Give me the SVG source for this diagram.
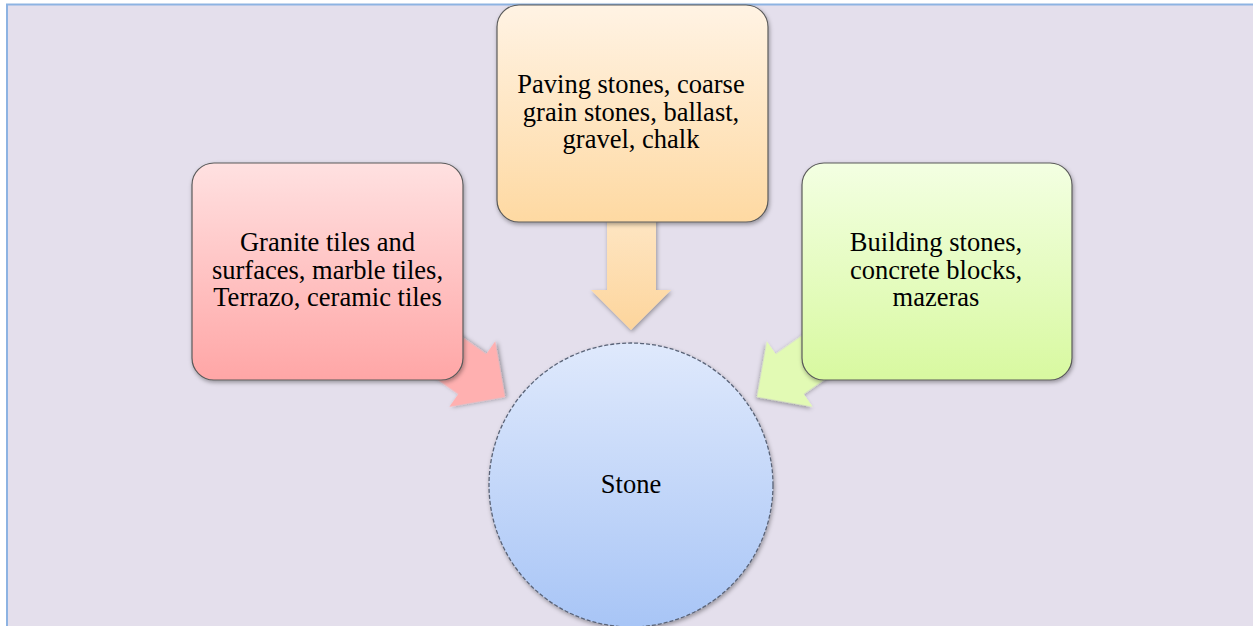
<svg xmlns="http://www.w3.org/2000/svg" width="1253" height="626" viewBox="0 0 1253 626">
  <defs>
    <linearGradient id="gRed" x1="0" y1="0" x2="0" y2="1">
      <stop offset="0" stop-color="#ffe1e1"/>
      <stop offset="1" stop-color="#ffa6a6"/>
    </linearGradient>
    <linearGradient id="gOrange" x1="0" y1="0" x2="0" y2="1">
      <stop offset="0" stop-color="#fff3e4"/>
      <stop offset="1" stop-color="#fed9a2"/>
    </linearGradient>
    <linearGradient id="gGreen" x1="0" y1="0" x2="0" y2="1">
      <stop offset="0" stop-color="#f3ffe2"/>
      <stop offset="1" stop-color="#d8f9a0"/>
    </linearGradient>
    <linearGradient id="gBlue" x1="0" y1="0" x2="0" y2="1">
      <stop offset="0" stop-color="#dfe9fc"/>
      <stop offset="1" stop-color="#a8c5f6"/>
    </linearGradient>
    <linearGradient id="gArrowOrange" x1="0" y1="0" x2="0" y2="1">
      <stop offset="0" stop-color="#fee6c4"/>
      <stop offset="1" stop-color="#fdd59c"/>
    </linearGradient>
    <filter id="shadow" x="-20%" y="-20%" width="140%" height="140%">
      <feDropShadow dx="1" dy="2" stdDeviation="2" flood-color="#000" flood-opacity="0.35"/>
    </filter>
    <!-- down-pointing block arrow, tip at the origin -->
    <path id="blockArrow" d="M0,0 L40,-40 L24.5,-40 L24.5,-110 L-24.5,-110 L-24.5,-40 L-40,-40 Z"/>
  </defs>
  <style>
    .box { stroke: #5a5a5a; stroke-width: 1.2; filter: url(#shadow); }
    .label { font-family: "Liberation Serif", "Times New Roman", serif; font-size: 26.5px; fill: #000; text-anchor: middle; }
  </style>

  <!-- canvas -->
  <rect x="0" y="0" width="1253" height="626" fill="#ffffff"/>
  <rect x="6.5" y="4" width="1247" height="622" fill="#e4dfec"/>
  <path d="M7,626 L7,4.5 L1253,4.5" fill="none" stroke="#8db3e2" stroke-width="2"/>

  <!-- connectors -->
  <g id="connectors">
    <use href="#blockArrow" transform="translate(505,397) rotate(-55)" fill="#ffb0b0" filter="url(#shadow)"/>
    <use href="#blockArrow" transform="translate(757,397) rotate(55)" fill="#e2fab4" filter="url(#shadow)"/>
    <path d="M607,215 L656,215 L656,290 L671,290 L631,330 L591,290 L607,290 Z" fill="url(#gArrowOrange)" filter="url(#shadow)"/>
  </g>

  <g id="node-tiles">
    <rect class="box" x="192" y="163" width="271" height="217" rx="22" fill="url(#gRed)"/>
    <text class="label" x="327.5" y="251">Granite tiles and</text>
    <text class="label" x="327.5" y="278.5">surfaces, marble tiles,</text>
    <text class="label" x="327.5" y="306">Terrazo, ceramic tiles</text>
  </g>

  <g id="node-paving">
    <rect class="box" x="497" y="5" width="271" height="217" rx="22" fill="url(#gOrange)"/>
    <text class="label" x="631" y="93">Paving stones, coarse</text>
    <text class="label" x="631" y="120.5">grain stones, ballast,</text>
    <text class="label" x="631" y="148">gravel, chalk</text>
  </g>

  <g id="node-building">
    <rect class="box" x="802" y="163" width="270" height="217" rx="22" fill="url(#gGreen)"/>
    <text class="label" x="936" y="251">Building stones,</text>
    <text class="label" x="936" y="278.5">concrete blocks,</text>
    <text class="label" x="936" y="306">mazeras</text>
  </g>

  <g id="node-stone">
    <circle cx="631" cy="485" r="142" fill="url(#gBlue)" stroke="#5a6478" stroke-width="1.3" stroke-dasharray="4 2" filter="url(#shadow)"/>
    <text class="label" x="631" y="493">Stone</text>
  </g>
</svg>
